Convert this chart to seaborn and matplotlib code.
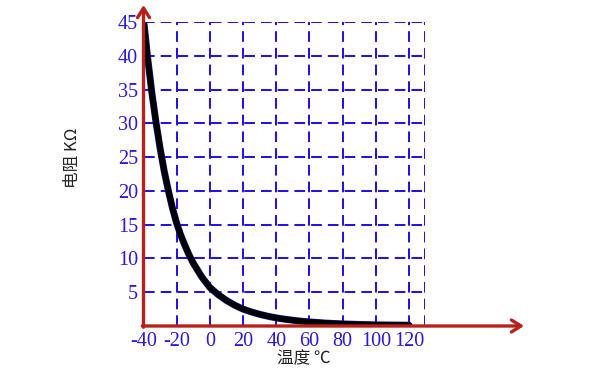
import matplotlib
matplotlib.use("Agg")
import matplotlib.pyplot as plt
import matplotlib.patheffects as pe
import seaborn as sns
import pandas as pd

# Data (temperature °C -> resistance kΩ)
temperature = [-40, -37.5, -35, -32.5, -30, -27.5, -25, -22.5, -20, -17.5, -15, -12.5, -10, -5,
               0, 5, 10, 15, 20, 25, 30, 35, 40, 45, 50, 55, 60, 70, 80, 90, 100, 110, 120]
resistance = [45.5, 39.7, 34.6, 30.2, 26.3, 22.9, 20.0, 17.4, 15.2, 13.4, 11.9, 10.5, 9.3, 7.3,
              5.7, 4.64, 3.78, 3.07, 2.5, 2.08, 1.73, 1.44, 1.2, 1.01, 0.85, 0.71, 0.6, 0.43, 0.31,
              0.23, 0.17, 0.14, 0.12]

x_ticks = [-40, -20, 0, 20, 40, 60, 80, 100, 120]
y_ticks = [5, 10, 15, 20, 25, 30, 35, 40, 45]
x_label = "温度 ℃"
y_label = "电阻 KΩ"

sns.set_theme(style="white")
plt.rcParams['font.family'] = ['Noto Sans CJK SC', 'DejaVu Sans']
plt.rcParams['axes.unicode_minus'] = False

W, H = 600, 375
fig = plt.figure(figsize=(6, 3.75), dpi=100)
L, B, R, T = 143.5, 326, 425, 22
ax = fig.add_axes([L / W, 1 - B / H, (R - L) / W, (B - T) / H])

df = pd.DataFrame({"t": temperature, "r": resistance})
grid_c = "#2412e6"
red = "#b8211a"

xmax = 129.6
ax.set_xlim(-40, xmax)
ax.set_ylim(0, 45)

# dashed grid
dash = (0, (5.3, 3.0))
for xv in x_ticks[1:] + [xmax]:
    ax.axvline(xv, color=grid_c, lw=1.45, ls=dash, zorder=1)
for yv in y_ticks:
    ax.axhline(yv, color=grid_c, lw=1.45, ls=dash, zorder=1)

sns.lineplot(data=df, x="t", y="r", ax=ax, color="black", lw=4.2, zorder=3,
             path_effects=[pe.Stroke(linewidth=5.0, foreground="#1a1aa0"), pe.Normal()])

for s in ax.spines.values():
    s.set_visible(False)

ax.set_xticks(x_ticks)
ax.set_yticks(y_ticks)
ax.tick_params(length=0, colors=grid_c, labelsize=14.5)
ax.tick_params(axis="x", pad=4)
ax.tick_params(axis="y", pad=4)
for lab in ax.get_xticklabels() + ax.get_yticklabels():
    lab.set_family("Liberation Serif")
    lab.set_color("#2a18e0")
ax.set_xlabel("")
ax.set_ylabel("")
ax.grid(False)

# axes arrows
ox, oy = L / W, 1 - B / H
ax.annotate("", xy=(ox, 1 - 5 / H), xytext=(ox, oy - 1.2 / H), xycoords=fig.transFigure,
            textcoords=fig.transFigure,
            arrowprops=dict(arrowstyle="->,head_length=0.38,head_width=0.24", color=red, lw=2.4,
                            mutation_scale=18, shrinkA=0, shrinkB=0), annotation_clip=False)
ax.annotate("", xy=(524 / W, oy), xytext=(ox - 1.2 / W, oy), xycoords=fig.transFigure,
            textcoords=fig.transFigure,
            arrowprops=dict(arrowstyle="->,head_length=0.38,head_width=0.24", color=red, lw=2.4,
                            mutation_scale=18, shrinkA=0, shrinkB=0), annotation_clip=False)

fig.text(304 / W, 1 - 359 / H, x_label, ha="center", va="center", fontsize=12, color="#222222")
fig.text(73 / W, 1 - 158 / H, y_label, ha="center", va="center", fontsize=12, color="#222222",
         rotation=90)

fig.savefig("out.png", dpi=100, facecolor="white")
